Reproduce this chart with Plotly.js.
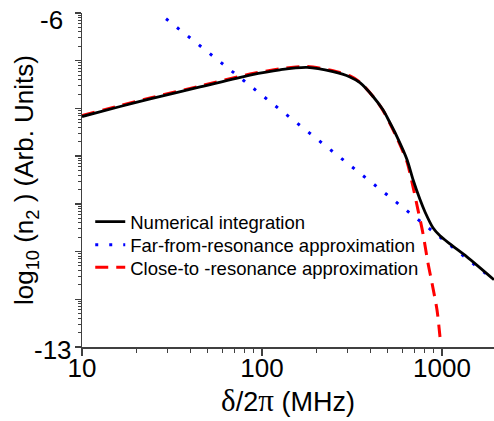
<!DOCTYPE html>
<html>
<head>
<meta charset="utf-8">
<script src="https://cdn.plot.ly/plotly-3.0.1.min.js"></script>
<style>html,body{margin:0;padding:0;background:#fff;}#chart{width:494px;height:421px;}</style>
</head>
<body>
<div id="chart"></div>
<script>
// Detuning delta/2pi (MHz) and log10(n2)
const numFreq = [10, 16.3, 23.9, 45.3, 85.8, 126, 178, 248, 308, 350, 414, 470, 514, 562, 639, 690, 755, 805, 891, 975, 1107, 1376, 1945];
const numLog  = [-8.17, -7.96, -7.80, -7.55, -7.30, -7.19, -7.14, -7.23, -7.34, -7.46, -7.75, -8.03, -8.30, -8.59, -9.07, -9.49, -9.91, -10.17, -10.50, -10.67, -10.84, -11.11, -11.59];

const farFreq = [29.3, 143, 495, 1668, 1945];
const farLog  = [-6.12, -8.18, -9.81, -11.40, -11.59];

const closeFreq = [10, 16.3, 23.9, 45.3, 85.8, 126, 178, 248, 308, 350, 414, 470, 514, 562, 639, 690, 735, 783, 836, 880, 938, 975];
const closeLog  = [-8.15, -7.94, -7.78, -7.53, -7.28, -7.17, -7.12, -7.21, -7.32, -7.45, -7.75, -8.04, -8.32, -8.62, -9.12, -9.64, -10.12, -10.61, -11.24, -11.66, -12.22, -12.79];

const seriesNames = ['Numerical integration', 'Far-from-resonance approximation', 'Close-to -resonance approximation'];
const xTickVals = [10, 100, 1000];
const xTickText = ['10', '100', '1000'];
const yTickVals = [-13, -6];
const yTickText = ['-13', '-6'];

const FONT = 'Arial, "Liberation Sans", sans-serif';
const AXC = '#404040';

// minor tick positions (axis decoration)
const xMinor = [];
[10, 100, 1000].forEach(d => { for (let k = 2; k <= 9; k++) { if (d * k <= 2000) xMinor.push(d * k); } });
const yMajor = [];
for (let v = -13; v <= -6; v++) yMajor.push(v);
const yMinor = [];
for (let v = -13; v < -6; v++) { for (let k = 2; k <= 9; k++) yMinor.push(v + Math.log10(k)); }

const traces = [
  {x: closeFreq, y: closeLog, name: seriesNames[2], mode: 'lines', legend: 'legend3',
   line: {color: '#ff0000', width: 3, dash: '13px,8px', shape: 'spline', smoothing: 0.8}},
  {x: farFreq, y: farLog, name: seriesNames[1], mode: 'lines', legend: 'legend2',
   line: {color: '#0000ff', width: 3, dash: '3px,11px'}},
  {x: numFreq, y: numLog, name: seriesNames[0], mode: 'lines', legend: 'legend',
   line: {color: '#000000', width: 2.8, shape: 'spline', smoothing: 0.8}}
];

function leg(y) {
  return {x: 0.02, xanchor: 'left', y: y, yanchor: 'middle', bgcolor: 'rgba(0,0,0,0)',
          font: {size: 18.5, family: FONT}, borderwidth: 0};
}

const layout = {
  width: 494, height: 421,
  margin: {l: 82, r: 0, t: 13, b: 74},
  paper_bgcolor: '#fff', plot_bgcolor: '#fff',
  font: {family: FONT, color: '#000'},
  showlegend: true,
  legend: leg(0.374),
  legend2: leg(0.305),
  legend3: leg(0.237),
  xaxis: {
    type: 'log', range: [1, 3.289],
    tickmode: 'array', tickvals: xTickVals, ticktext: xTickText,
    ticks: 'outside', ticklen: 7, tickwidth: 1.5, tickcolor: AXC,
    showline: true, linecolor: AXC, linewidth: 1.5, mirror: false,
    showgrid: false, zeroline: false,
    tickfont: {size: 26, family: FONT}, ticklabelstandoff: -10,
    minor: {tickmode: 'array', tickvals: xMinor, ticks: 'outside', ticklen: 4, tickwidth: 1, tickcolor: AXC, showgrid: false},
    title: {text: '<span style="font-family:\'Liberation Serif\';font-size:31px">δ</span>/2<span style="font-family:\'Liberation Serif\';font-size:31px">π</span> (MHz)',
            font: {size: 27, family: FONT}, standoff: 0}
  },
  yaxis: {
    range: [-13, -6],
    tickmode: 'array', tickvals: yMajor, showticklabels: false,
    ticks: 'outside', ticklen: 6, tickwidth: 1.5, tickcolor: AXC,
    showline: true, linecolor: AXC, linewidth: 1.5,
    showgrid: false, zeroline: false,
    minor: {tickmode: 'array', tickvals: yMinor, ticks: 'outside', ticklen: 3, tickwidth: 1, tickcolor: AXC, showgrid: false},
    title: {text: 'log<sub>10</sub> (n<sub>2</sub> ) (Arb. Units)', font: {size: 26, family: FONT}, standoff: 33}
  },
  annotations: [
    {xref: 'paper', yref: 'y', x: 0, y: yTickVals[0], text: yTickText[0], showarrow: false,
     xanchor: 'right', yanchor: 'middle', xshift: -8, yshift: -3, font: {size: 26, family: FONT}},
    {xref: 'paper', yref: 'y', x: 0, y: yTickVals[1], text: yTickText[1], showarrow: false,
     xanchor: 'right', yanchor: 'middle', xshift: -17, yshift: -7, font: {size: 26, family: FONT}}
  ]
};

Plotly.newPlot('chart', traces, layout, {displayModeBar: false, staticPlot: true});
</script>
</body>
</html>
